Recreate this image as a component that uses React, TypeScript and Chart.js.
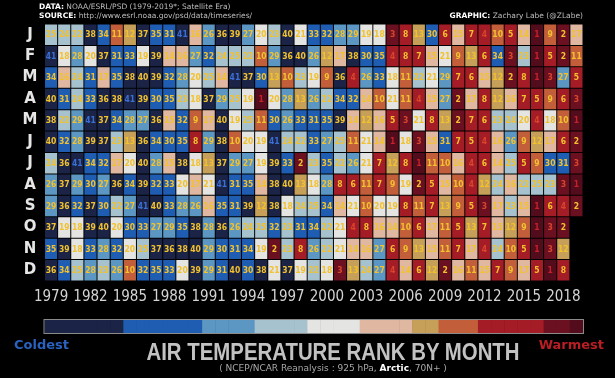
import React, { useEffect, useRef } from 'react';
import { Chart, registerables } from 'chart.js';

Chart.register(...registerables);

const years = ['1979','1980','1981','1982','1983','1984','1985','1986','1987','1988','1989','1990','1991','1992','1993','1994','1995','1996','1997','1998','1999','2000','2001','2002','2003','2004','2005','2006','2007','2008','2009','2010','2011','2012','2013','2014','2015','2016','2017','2018','2019'];
const monthLabels = ['J','F','M','A','M','J','J','A','S','O','N','D'];

const jan = [25,24,22,38,34,11,12,37,35,31,41,16,26,36,39,27,20,23,40,21,33,32,28,29,19,18,3,8,13,30,6,15,7,4,10,5,14,1,9,2,17];
const feb = [41,18,28,20,37,31,33,19,39,14,16,27,32,24,25,22,10,29,36,40,26,12,17,38,30,35,4,8,7,15,21,9,13,6,34,3,23,1,5,2,11];
const mar = [34,16,24,31,17,35,38,40,39,32,28,20,25,14,41,37,30,13,10,23,19,9,36,4,26,33,18,11,22,21,29,7,6,15,12,2,8,1,3,27,5];
const apr = [40,31,24,33,36,38,41,39,30,35,23,18,37,29,25,19,1,20,28,13,26,22,34,32,14,10,21,11,4,15,27,2,17,8,12,16,7,5,9,6,3];
const may = [38,22,29,41,37,34,28,27,36,15,32,9,17,40,19,25,11,30,26,33,31,35,39,14,12,16,5,3,21,8,13,2,7,6,23,24,20,4,18,10,1];
const jun = [40,32,28,39,37,23,13,36,34,30,35,8,29,38,10,20,19,41,24,22,33,27,25,11,21,14,1,18,3,15,31,7,5,4,16,26,9,12,17,6,2];
const jul = [24,36,41,34,32,17,20,40,28,15,38,18,13,37,29,27,19,39,33,2,23,35,22,26,21,7,12,8,1,11,10,16,4,6,14,25,5,9,30,31,3];
const aug = [26,37,29,30,27,36,34,39,32,33,20,17,21,41,31,35,14,38,40,13,18,28,8,6,11,7,9,19,2,5,15,10,4,12,24,16,22,25,23,3,1];
const sep = [29,36,32,37,30,22,27,41,40,33,28,26,16,35,31,39,12,38,18,24,25,34,14,21,10,20,19,8,11,7,13,9,5,3,17,23,15,1,6,4,2];
const oct = [37,19,18,39,40,20,30,33,27,29,35,38,28,36,26,24,25,32,23,31,34,22,21,4,8,16,14,10,6,17,11,5,13,7,15,12,9,1,3,2,null];
const nov = [35,39,18,33,28,32,20,25,37,36,38,40,29,30,31,34,19,2,23,8,26,22,21,14,16,27,6,9,13,15,11,7,17,4,24,10,5,1,3,12,null];
const dec = [36,34,25,28,23,26,10,32,35,33,20,39,29,31,40,30,38,21,37,19,22,18,3,13,24,27,4,14,6,12,2,16,11,15,7,9,17,5,1,8,null];

const monthSeries: (number | null)[][] = [jan, feb, mar, apr, may, jun, jul, aug, sep, oct, nov, dec];

function rankColor(r: number): string {
  if (r >= 36) return '#1b2446';
  if (r >= 30) return '#1f5db2';
  if (r >= 26) return '#5b97c2';
  if (r >= 22) return '#a6c2ce';
  if (r >= 18) return '#e4e4e2';
  if (r >= 14) return '#e0b8a2';
  if (r >= 12) return '#c69f58';
  if (r >= 9) return '#c25f3a';
  if (r >= 4) return '#a41c25';
  if (r >= 2) return '#6a1020';
  return '#520c1b';
}

function textColor(r: number): string {
  if (r === 41) return '#3a6fd6';
  if (r === 1) return '#c8202a';
  if (r <= 4 && r >= 3) return '#d8452c';
  return '#f2c12e';
}

const cellText = {
  id: 'cellText',
  afterDatasetsDraw(chart: any) {
    const ctx = chart.ctx;
    ctx.save();
    ctx.font = 'bold 8.5px "DejaVu Sans Condensed", "DejaVu Sans", sans-serif';
    ctx.textAlign = 'center';
    ctx.textBaseline = 'middle';
    chart.data.datasets.forEach((ds: any, di: number) => {
      const meta = chart.getDatasetMeta(di);
      const ranks = monthSeries[di];
      meta.data.forEach((el: any, i: number) => {
        const r = ranks[i];
        if (r == null) return;
        const p = el.getProps(['x', 'y', 'base'], true);
        ctx.fillStyle = textColor(r);
        ctx.fillText(String(r), p.x, (p.y + p.base) / 2 + 0.5);
      });
    });
    ctx.restore();
  },
};

const colorBar = {
  id: 'colorBar',
  afterDraw(chart: any) {
    const ctx = chart.ctx;
    const { left, right } = chart.chartArea;
    const top = 320;
    const h = 13;
    const n = 41;
    const w = (right - left) / n;
    ctx.save();
    for (let k = 0; k < n; k++) {
      const r = n - k;
      ctx.fillStyle = rankColor(r);
      ctx.fillRect(left + k * w, top, w + 0.5, h);
    }
    ctx.strokeStyle = '#8a8a8a';
    ctx.lineWidth = 1;
    ctx.strokeRect(left - 0.5, top - 0.5, right - left + 1, h + 1);
    ctx.restore();
  },
};

export default function App() {
  const ref = useRef<HTMLCanvasElement>(null);

  useEffect(() => {
    if (!ref.current) return;
    const datasets = monthSeries.map((vals, m) => ({
      label: monthLabels[m],
      data: vals.map((v) => (v == null ? null : [m - 0.475, m + 0.475])),
      backgroundColor: vals.map((v) => (v == null ? 'rgba(0,0,0,0)' : rankColor(v))),
      borderWidth: 0,
      barPercentage: 0.925,
      categoryPercentage: 1,
      grouped: false,
    }));
    const chart = new Chart(ref.current, {
      type: 'bar',
      data: { labels: years, datasets: datasets as any },
      options: {
        animation: false,
        responsive: false,
        maintainAspectRatio: false,
        layout: { padding: { left: 0, right: 32, top: 24, bottom: 67 } },
        plugins: { legend: { display: false }, tooltip: { enabled: false }, title: { display: false } },
        scales: {
          x: {
            type: 'category',
            grid: { display: false, drawTicks: false },
            border: { display: false },
            afterFit: (s: any) => { s.height = 30; },
            ticks: {
              autoSkip: false,
              maxRotation: 0,
              padding: 7,
              color: '#d4d4d4',
              font: { family: '"DejaVu Sans Condensed", "DejaVu Sans", sans-serif', size: 15 },
              callback: (_v: any, i: number) => (i % 3 === 0 ? years[i] : ''),
            },
          },
          y: {
            type: 'linear',
            reverse: true,
            min: -0.5,
            max: 11.5,
            grid: { display: false, drawTicks: false },
            border: { display: false },
            afterFit: (s: any) => { s.width = 44.5; },
            afterBuildTicks: (s: any) => {
              s.ticks = monthLabels.map((_, i) => ({ value: i }));
            },
            ticks: {
              crossAlign: 'center',
              padding: 7,
              color: '#e6e6e6',
              font: { family: '"DejaVu Sans", sans-serif', size: 15, weight: 'bold' },
              callback: (v: any) => monthLabels[Math.round(Number(v))] ?? '',
            },
          },
        },
      },
      plugins: [cellText, colorBar],
    });
    return () => chart.destroy();
  }, []);

  const base: React.CSSProperties = { position: 'absolute', whiteSpace: 'nowrap', lineHeight: 1 };

  return (
    <div style={{ position: 'absolute', left: 0, top: 0, width: 615, height: 378, background: '#000', overflow: 'hidden' }}>
      <canvas ref={ref} width={615} height={378} style={{ display: 'block', width: 615, height: 378 }} />
      <div style={{ ...base, left: 39, top: 3, fontFamily: '"DejaVu Sans", sans-serif', fontSize: 7.5, color: '#bdbdbd' }}>
        <b style={{ color: '#fff' }}>DATA:</b> NOAA/ESRL/PSD (1979-2019*; Satellite Era)
      </div>
      <div style={{ ...base, left: 39, top: 12, fontFamily: '"DejaVu Sans", sans-serif', fontSize: 7.5, color: '#bdbdbd' }}>
        <b style={{ color: '#fff' }}>SOURCE:</b> http://www.esrl.noaa.gov/psd/data/timeseries/
      </div>
      <div style={{ ...base, right: 32, top: 12, fontFamily: '"DejaVu Sans", sans-serif', fontSize: 7.5, color: '#bdbdbd' }}>
        <b style={{ color: '#fff' }}>GRAPHIC:</b> Zachary Labe (@ZLabe)
      </div>
      <div style={{ ...base, left: 14, top: 338, fontFamily: '"DejaVu Sans", sans-serif', fontWeight: 'bold', fontSize: 13, color: '#2a62c0' }}>
        Coldest
      </div>
      <div style={{ ...base, right: 11, top: 338, fontFamily: '"DejaVu Sans", sans-serif', fontWeight: 'bold', fontSize: 13, color: '#b81e24' }}>
        Warmest
      </div>
      <div style={{ ...base, left: 333, top: 342, transform: 'translateX(-50%) scaleY(1.15)', fontFamily: '"Liberation Sans", Arial, sans-serif', fontWeight: 'bold', fontSize: 20.4, color: '#c2c2c2' }}>
        AIR TEMPERATURE RANK BY MONTH
      </div>
      <div style={{ ...base, left: 333, top: 364, transform: 'translateX(-50%)', fontFamily: '"DejaVu Sans", sans-serif', fontSize: 9, color: '#a8a8a8' }}>
        ( NCEP/NCAR Reanalysis : 925 hPa, <b style={{ color: '#fff' }}>Arctic</b>, 70N+ )
      </div>
    </div>
  );
}
